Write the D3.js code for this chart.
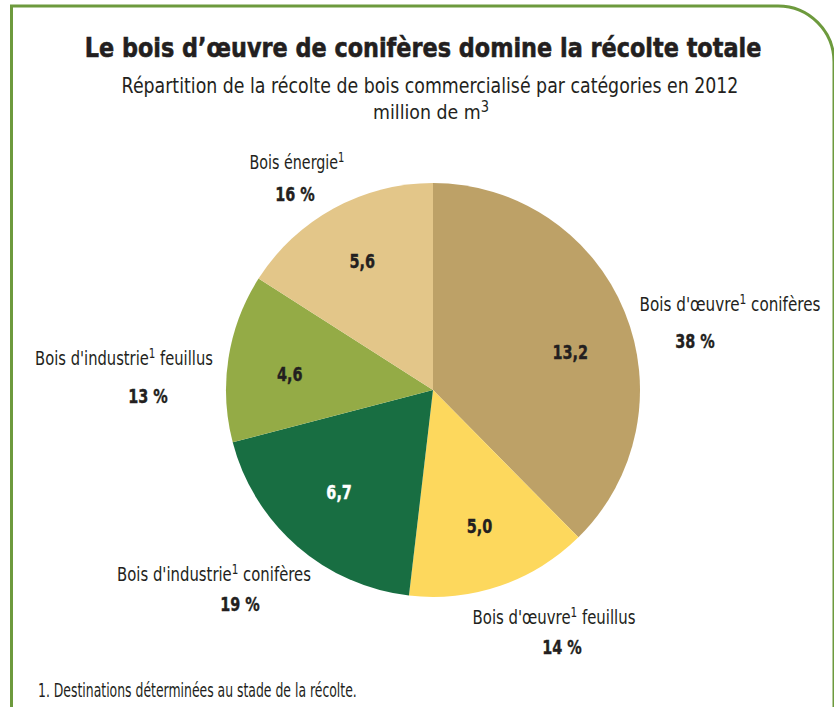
<!DOCTYPE html>
<html>
<head>
<meta charset="utf-8">
<script src="https://cdn.jsdelivr.net/npm/d3@7"></script>
<style>
  body { margin: 0; background: #fff; }
  svg text { font-family: "DejaVu Sans", "Noto Sans", sans-serif; fill: #231f20; }
</style>
</head>
<body>
<svg id="chart" width="834" height="707"></svg>
<script>
// data
var names = ["Bois d'œuvre", "Bois d'œuvre", "Bois d'industrie", "Bois d'industrie", "Bois énergie"];
var nameTails = [" conifères", " feuillus", " conifères", " feuillus", ""];
var values = [13.2, 5.0, 6.7, 4.6, 5.6];
var percents = [38, 14, 19, 13, 16];
var colors = ["#bda167", "#fdd85d", "#186e42", "#94ab46", "#e3c689"];
var valueColors = ["#231f20", "#231f20", "#ffffff", "#231f20", "#231f20"];

// label layout, offsets from pie centre
var namePos = [[297, -79], [121, 234], [-219, 191], [-309, -25], [-136, -221]];
var nameWidth = [181, 163, 194, 178, 95];
var pctPos = [[262, -42], [129, 264], [-193, 221], [-285, 13], [-138, -189]];
var valueNudge = [[5, 16], [0, 1], [0, -6], [-2, 6], [-2, -3]];

var svg = d3.select("#chart");
var cx = 433, cy = 390, R = 207;
var condense = 0.76;

// squeeze a text (drawn at 0,0) horizontally to a width, then move it
function squeeze(node, x, y, width) {
    var w = node.getBBox().width;
    var sx = width ? width / w : condense;
    d3.select(node).attr("transform", "translate(" + x + "," + y + ") scale(" + sx + ",1)");
}

// frame
svg.append("path")
    .attr("d", "M11.5,707 L11.5,6 L778,6 A56,56 0 0 1 834,62 L834,707")
    .attr("fill", "none")
    .attr("stroke", "#6d9a3d")
    .attr("stroke-width", 3);

var title = svg.append("text")
    .attr("text-anchor", "middle")
    .style("font-weight", "bold")
    .style("font-size", "27px")
    .style("stroke", "#231f20")
    .style("stroke-width", 0.6)
    .text("Le bois d’œuvre de conifères domine la récolte totale");
squeeze(title.node(), 423, 57, 677);

var sub = svg.append("text")
    .attr("text-anchor", "middle")
    .style("font-size", "21px")
    .text("Répartition de la récolte de bois commercialisé par catégories en 2012");
squeeze(sub.node(), 430, 93, 617);

var unit = svg.append("text")
    .attr("text-anchor", "middle")
    .style("font-size", "20px");
unit.append("tspan").text("million de m");
unit.append("tspan").attr("dy", -7).style("font-size", "15px").text("3");
squeeze(unit.node(), 431, 119, 116);

// pie
var pie = d3.pie().sort(null).value(function(d) { return d; });
var arc = d3.arc().innerRadius(0).outerRadius(R);
var labelArc = d3.arc().innerRadius(143).outerRadius(143);
var fmt = d3.format(".1f");

var g = svg.append("g").attr("transform", "translate(" + cx + "," + cy + ")");

var arcs = g.selectAll("g.arc")
    .data(pie(values))
    .enter()
    .append("g")
    .attr("class", "arc");

arcs.append("path")
    .attr("d", arc)
    .attr("fill", function(d, i) { return colors[i]; });

arcs.append("text")
    .attr("text-anchor", "middle")
    .attr("dy", "0.36em")
    .style("font-weight", "bold")
    .style("font-size", "19px")
    .style("fill", function(d, i) { return valueColors[i]; })
    .style("stroke", function(d, i) { return valueColors[i]; })
    .style("stroke-width", 0.4)
    .text(function(d) { return fmt(d.value).replace(".", ","); })
    .each(function(d, i) {
        var c = labelArc.centroid(d);
        squeeze(this, c[0] + valueNudge[i][0], c[1] + valueNudge[i][1]);
    });

// outer labels
var lbls = g.selectAll("text.name")
    .data(names)
    .enter()
    .append("text")
    .attr("class", "name")
    .attr("text-anchor", "middle")
    .style("font-size", "20px");
lbls.append("tspan").text(function(d) { return d; });
lbls.append("tspan").attr("dy", -7).style("font-size", "14px").text("1");
lbls.append("tspan").attr("dy", 7).text(function(d, i) { return nameTails[i]; });
lbls.each(function(d, i) { squeeze(this, namePos[i][0], namePos[i][1], nameWidth[i]); });

g.selectAll("text.pct")
    .data(percents)
    .enter()
    .append("text")
    .attr("class", "pct")
    .attr("text-anchor", "middle")
    .style("font-weight", "bold")
    .style("font-size", "19px")
    .style("stroke", "#231f20")
    .style("stroke-width", 0.4)
    .text(function(d) { return d + " %"; })
    .each(function(d, i) { squeeze(this, pctPos[i][0], pctPos[i][1]); });

// footnote
var foot = svg.append("text")
    .style("font-size", "20px")
    .text("1. Destinations déterminées au stade de la récolte.");
squeeze(foot.node(), 38, 697, 319);
</script>
</body>
</html>
